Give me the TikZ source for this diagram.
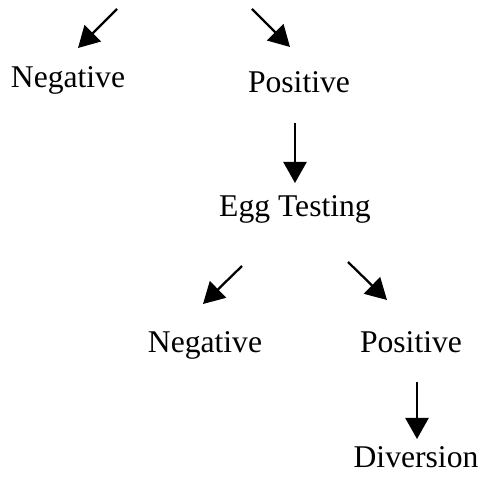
\documentclass[tikz,border=0pt]{standalone}
\usepackage{fontspec}
\setmainfont{Liberation Serif}
\usetikzlibrary{arrows.meta}

\begin{document}
\begin{tikzpicture}[
  result/.style={anchor=base,inner sep=0pt,font=\fontsize{18}{21}\selectfont},
  arr/.style={-{Triangle[length=0.42cm,width=0.46cm]},line width=1.3pt}
]
\useasboundingbox (0,0) rectangle (9.6,9.78);
% First test outcomes
\node[result] (neg1) at (1.36,8.02) {Negative};
\node[result] (pos1) at (5.98,7.92) {Positive};
% Egg testing
\node[result] (egg) at (5.9,5.44) {Egg Testing};
\node[result] (neg2) at (4.10,2.72) {Negative};
\node[result] (pos2) at (8.22,2.72) {Positive};
\node[result] (div) at (8.32,0.42) {Diversion};
% Arrow ends
\coordinate (in1) at (2.34,9.6);
\coordinate (in2) at (5.04,9.6);
\coordinate (e1) at (1.56,8.82);
\coordinate (e2) at (5.80,8.84);
% Arrows
\draw[arr] (in1) -- (e1);
\draw[arr] (in2) -- (e2);
\draw[arr] (egg.south |- 0,7.32) -- (egg.south |- 0,6.12);
\draw[arr] (4.84,4.46) coordinate (e3) -- (4.06,3.70) coordinate (e4);
\draw[arr] (6.96,4.54) coordinate (e5) -- (7.74,3.78) coordinate (e6);
\draw[arr] (8.34,2.14) coordinate (e7) -- (8.34,1.0) coordinate (e8);
\end{tikzpicture}
\end{document}
